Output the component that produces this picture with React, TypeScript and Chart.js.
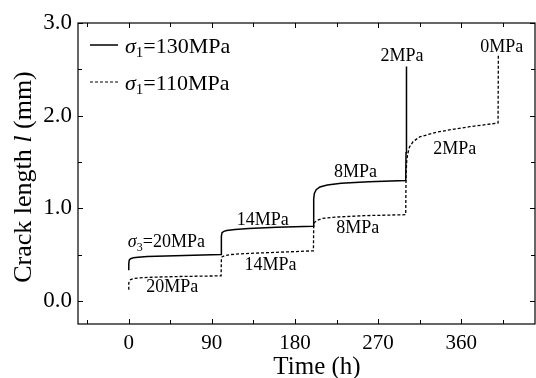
import React, { useEffect, useRef } from "react";
import { Chart, registerables } from "chart.js";
Chart.register(...registerables);

// sigma1 = 130 MPa (solid)
const timeA = [0, 0, 0.5, 2, 5, 10, 20, 40, 70, 100,
  100.3, 101, 103, 106, 115, 130, 160, 200,
  200.3, 201, 203, 207, 215, 230, 260, 300,
  300.3, 300.6, 301];
const crackA = [0.33, 0.40, 0.44, 0.455, 0.465, 0.47, 0.478, 0.485, 0.492, 0.50,
  0.70, 0.735, 0.75, 0.76, 0.77, 0.78, 0.795, 0.805,
  1.10, 1.16, 1.20, 1.23, 1.25, 1.27, 1.285, 1.30,
  1.60, 1.95, 2.53];

// sigma1 = 110 MPa (dashed)
const timeB = [0, 0, 0.5, 2, 5, 10, 25, 50, 100,
  100.3, 101, 104, 110, 125, 150, 200,
  200.3, 201, 204, 210, 225, 255, 300,
  300.3, 301, 302, 304, 308, 315, 333, 350, 369, 400, 400.3];
const crackB = [0.12, 0.19, 0.215, 0.23, 0.24, 0.247, 0.255, 0.262, 0.27,
  0.45, 0.475, 0.488, 0.50, 0.51, 0.52, 0.54,
  0.80, 0.845, 0.87, 0.89, 0.905, 0.92, 0.93,
  1.35, 1.50, 1.58, 1.66, 1.72, 1.77, 1.82, 1.85, 1.88, 1.92, 2.65];

const xTicks = [0, 90, 180, 270, 360];
const xMinor = [-45, 45, 135, 225, 315, 405];
const yTicks = [0, 1, 2, 3];
const yMinor = [0.5, 1.5, 2.5];
const seriesNames = ["=130MPa", "=110MPa"];

// stage labels: text, time anchor (center), crack-length anchor (baseline)
const stageText = ["20MPa", "14MPa", "14MPa", "8MPa", "8MPa", "2MPa", "2MPa", "0MPa"];
const stageT = [47, 145, 153.5, 245.6, 248, 296, 353, 404];
const stageL = [0.10, 0.82, 0.33, 1.34, 0.73, 2.59, 1.59, 2.69];

const SERIF = "'Liberation Serif', 'Times New Roman', serif";

const drawPlugin = {
  id: "custom",
  afterDraw(chart: any) {
    const ctx = chart.ctx as CanvasRenderingContext2D;
    const { left, right, top, bottom } = chart.chartArea;
    const xs = chart.scales.x;
    const ys = chart.scales.y;
    ctx.save();
    ctx.strokeStyle = "#000";
    ctx.fillStyle = "#000";
    ctx.lineWidth = 1.2;
    ctx.setLineDash([]);
    ctx.strokeRect(left, top, right - left, bottom - top);
    const tick = (vals: number[], len: number) => {
      vals.forEach((v) => {
        const px = Math.round(xs.getPixelForValue(v)) + 0.5;
        ctx.beginPath();
        ctx.moveTo(px, bottom); ctx.lineTo(px, bottom - len);
        ctx.moveTo(px, top); ctx.lineTo(px, top + len);
        ctx.stroke();
      });
    };
    const ytick = (vals: number[], len: number) => {
      vals.forEach((v) => {
        const py = Math.round(ys.getPixelForValue(v)) + 0.5;
        ctx.beginPath();
        ctx.moveTo(left, py); ctx.lineTo(left + len, py);
        ctx.moveTo(right, py); ctx.lineTo(right - len, py);
        ctx.stroke();
      });
    };
    ctx.lineWidth = 1;
    tick(xTicks, 5); tick(xMinor, 4);
    ytick(yTicks, 5); ytick(yMinor, 4);

    // stage labels
    ctx.font = `18px ${SERIF}`;
    ctx.textAlign = "center";
    ctx.textBaseline = "alphabetic";
    stageText.forEach((t, i) => {
      ctx.fillText(t, xs.getPixelForValue(stageT[i]), ys.getPixelForValue(stageL[i]));
    });
    // sigma3 label
    {
      let x = xs.getPixelForValue(-1);
      const y = ys.getPixelForValue(0.58);
      ctx.textAlign = "left";
      ctx.font = `italic 18px ${SERIF}`;
      ctx.fillText("σ", x, y);
      x += ctx.measureText("σ").width;
      ctx.font = `12px ${SERIF}`;
      ctx.fillText("3", x, y + 4);
      x += ctx.measureText("3").width;
      ctx.font = `18px ${SERIF}`;
      ctx.fillText("=20MPa", x, y);
    }

    // legend
    const legendRow = (y: number, dashed: boolean, name: string) => {
      ctx.lineWidth = dashed ? 1.2 : 1.5;
      ctx.setLineDash(dashed ? [3, 2] : []);
      ctx.beginPath();
      ctx.moveTo(90, y); ctx.lineTo(118, y);
      ctx.stroke();
      ctx.setLineDash([]);
      let x = 125;
      const by = y + 8;
      ctx.textAlign = "left";
      ctx.font = `italic 22px ${SERIF}`;
      ctx.fillText("σ", x, by);
      x += ctx.measureText("σ").width;
      ctx.font = `15px ${SERIF}`;
      ctx.fillText("1", x, by + 4);
      x += ctx.measureText("1").width;
      ctx.font = `22px ${SERIF}`;
      ctx.fillText(name, x, by);
    };
    legendRow(45, false, seriesNames[0]);
    legendRow(82, true, seriesNames[1]);

    // axis titles
    ctx.font = `25px ${SERIF}`;
    ctx.textAlign = "center";
    ctx.fillText("Time (h)", 317, 374);

    ctx.save();
    ctx.translate(31, 177);
    ctx.rotate(-Math.PI / 2);
    const parts: [string, string][] = [["Crack length ", `26px ${SERIF}`], ["l", `italic 26px ${SERIF}`], [" (mm)", `26px ${SERIF}`]];
    let total = 0;
    parts.forEach(([t, f]) => { ctx.font = f; total += ctx.measureText(t).width; });
    let cx = -total / 2;
    ctx.textAlign = "left";
    parts.forEach(([t, f]) => { ctx.font = f; ctx.fillText(t, cx, 0); cx += ctx.measureText(t).width; });
    ctx.restore();

    ctx.restore();
  },
};

export default function App() {
  const ref = useRef<HTMLCanvasElement>(null);
  useEffect(() => {
    document.body.style.margin = "0";
    const chart = new Chart(ref.current!, {
      type: "scatter",
      data: {
        datasets: [
          {
            label: "130",
            data: timeA.map((t, i) => ({ x: t, y: crackA[i] })),
            showLine: true,
            borderColor: "#000",
            borderWidth: 1.5,
            pointRadius: 0,
            tension: 0,
          },
          {
            label: "110",
            data: timeB.map((t, i) => ({ x: t, y: crackB[i] })),
            showLine: true,
            borderColor: "#000",
            borderWidth: 1.3,
            borderDash: [3, 2],
            pointRadius: 0,
            tension: 0,
          },
        ],
      },
      options: {
        animation: false,
        responsive: false,
        maintainAspectRatio: false,
        layout: { padding: { top: 23, right: 1, left: 0, bottom: 0 } },
        plugins: { legend: { display: false }, tooltip: { enabled: false } },
        scales: {
          x: {
            type: "linear",
            min: -55,
            max: 440,
            grid: { display: false, drawTicks: false },
            border: { display: false },
            afterBuildTicks: (s: any) => { s.ticks = xTicks.map((v) => ({ value: v })); },
            afterFit: (s: any) => { s.height = 54; },
            ticks: {
              color: "#000",
              font: { family: SERIF, size: 21 },
              padding: 7,
              maxRotation: 0,
              callback: (v: any) => String(v),
            },
          },
          y: {
            type: "linear",
            min: -0.25,
            max: 3.0,
            grid: { display: false, drawTicks: false },
            border: { display: false },
            afterBuildTicks: (s: any) => { s.ticks = yTicks.map((v) => ({ value: v })); },
            afterFit: (s: any) => { s.width = 78; },
            ticks: {
              color: "#000",
              font: { family: SERIF, size: 23 },
              padding: 6,
              callback: (v: any) => Number(v).toFixed(1),
            },
          },
        },
      },
      plugins: [drawPlugin],
    } as any);
    return () => chart.destroy();
  }, []);
  return (
    <div style={{ position: "absolute", left: 0, top: 0, width: 536, height: 378 }}>
      <canvas ref={ref} width={536} height={378} style={{ width: 536, height: 378 }} />
    </div>
  );
}
